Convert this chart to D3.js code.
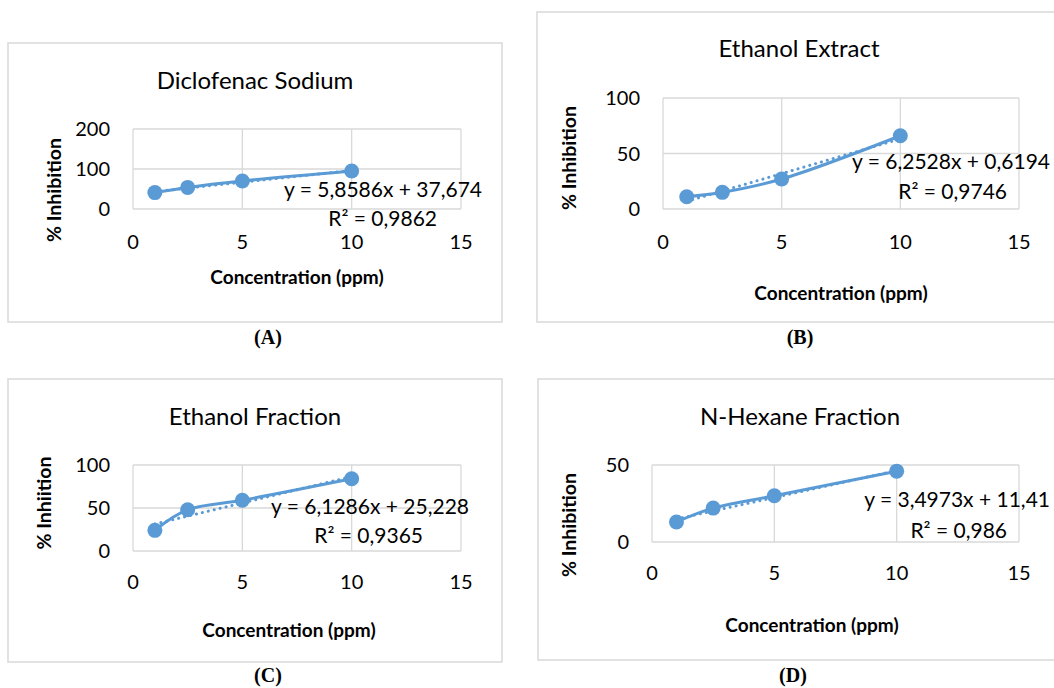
<!DOCTYPE html>
<html>
<head>
<meta charset="utf-8">
<script src="https://cdn.jsdelivr.net/npm/d3@7"></script>
<style>
  html, body { margin: 0; padding: 0; background: #fff; }
  svg { display: block; }
</style>
</head>
<body>
<svg width="1054" height="688"></svg>
<script>
// values
const concentration = [1, 2.5, 5, 10];
const inhibitionA = [41, 54, 70, 95];
const inhibitionB = [11, 15, 27, 66];
const inhibitionC = [24, 48, 59, 84];
const inhibitionD = [13, 22, 30, 46];
const titles = ["Diclofenac Sodium", "Ethanol Extract", "Ethanol Fraction", "N-Hexane Fraction"];
const yLabels = ["% Inhibition", "% Inhibition", "% Inhiition", "% Inhibition"];
const captions = ["(A)", "(B)", "(C)", "(D)"];
const yMax = [200, 100, 100, 50];
const yTicks = [[0, 100, 200], [0, 50, 100], [0, 50, 100], [0, 50]];
const xTicks = [0, 5, 10, 15];
const slopes = [5.8586, 6.2528, 6.1286, 3.4973];
const intercepts = [37.674, 0.6194, 25.228, 11.41];
const equations = ["y = 5,8586x + 37,674", "y = 6,2528x + 0,6194", "y = 6,1286x + 25,228", "y = 3,4973x + 11,41"];
const rSquared = ["0,9862", "0,9746", "0,9365", "0,986"];

const series = [inhibitionA, inhibitionB, inhibitionC, inhibitionD];

// layout of each panel (box, plot area, label spots)
const panels = [
    { box: [8, 43, 494, 279], plot: [133, 129, 328, 80], title: [255, 89], eq: [482, 197], r2: [437, 226], xl: [297, 284], yl: [54, 190], tickY: 249, cap: [268, 344] },
    { box: [537, 12, 530, 310], plot: [663, 98, 356, 111], title: [799, 57], eq: [1050, 169], r2: [1007, 199], xl: [841, 300], yl: [569, 158], tickY: 249, cap: [800, 344] },
    { box: [8, 379, 494, 283], plot: [133, 465, 328, 86], title: [255, 425], eq: [469, 514], r2: [423, 543], xl: [289, 637], yl: [44, 503], tickY: 589, cap: [268, 682] },
    { box: [538, 379, 530, 281], plot: [652, 465, 367, 77], title: [800, 425], eq: [1050, 507], r2: [1007, 538], xl: [812, 632], yl: [569, 525], tickY: 580, cap: [793, 682] }
];

const blue = "#5B9BD5";
const font = "Lato, 'Open Sans', sans-serif";
const svg = d3.select("svg");

panels.forEach((p, i) => {
    const g = svg.append("g");
    const [px, py, pw, ph] = p.plot;

    g.append("rect")
        .attr("x", p.box[0]).attr("y", p.box[1])
        .attr("width", p.box[2]).attr("height", p.box[3])
        .attr("fill", "#fff").attr("stroke", "#d9d9d9").attr("stroke-width", 1.5);

    const x = d3.scaleLinear().domain([0, 15]).range([px, px + pw]);
    const y = d3.scaleLinear().domain([0, yMax[i]]).range([py + ph, py]);

    // gridlines
    g.selectAll(".vg").data(xTicks).join("line")
        .attr("x1", d => x(d)).attr("x2", d => x(d))
        .attr("y1", py).attr("y2", py + ph)
        .attr("stroke", "#d9d9d9").attr("stroke-width", 1.3);
    g.selectAll(".hg").data(yTicks[i]).join("line")
        .attr("x1", px).attr("x2", px + pw)
        .attr("y1", d => y(d)).attr("y2", d => y(d))
        .attr("stroke", "#d9d9d9").attr("stroke-width", 1.3);

    // tick labels
    g.selectAll(".xt").data(xTicks).join("text")
        .attr("x", d => x(d)).attr("y", p.tickY)
        .attr("text-anchor", "middle")
        .attr("font-family", font).attr("font-size", 20).attr("fill", "#000")
        .text(d => d);
    g.selectAll(".yt").data(yTicks[i]).join("text")
        .attr("x", px - 23).attr("y", d => y(d))
        .attr("dy", "0.35em")
        .attr("text-anchor", "end")
        .attr("font-family", font).attr("font-size", 20).attr("fill", "#000")
        .text(d => d);

    // title
    g.append("text")
        .attr("x", p.title[0]).attr("y", p.title[1])
        .attr("text-anchor", "middle")
        .attr("font-family", font).attr("font-size", 24).attr("fill", "#000")
        .text(titles[i]);

    // axis titles
    g.append("text")
        .attr("x", p.xl[0]).attr("y", p.xl[1])
        .attr("text-anchor", "middle")
        .attr("font-family", font).attr("font-size", 19).attr("font-weight", "bold")
        .text("Concentration (ppm)");
    g.append("text")
        .attr("transform", `translate(${p.yl[0]},${p.yl[1]}) rotate(-90)`)
        .attr("text-anchor", "middle").attr("dy", "0.35em")
        .attr("font-family", font).attr("font-size", 19.5).attr("font-weight", "bold")
        .text(yLabels[i]);

    const pts = concentration.map((c, k) => [c, series[i][k]]);

    // smoothed data line
    g.append("path")
        .datum(pts)
        .attr("fill", "none").attr("stroke", blue).attr("stroke-width", 3)
        .attr("d", d3.line().x(d => x(d[0])).y(d => y(d[1])).curve(d3.curveCatmullRom.alpha(0.5)));

    // linear trendline
    const xr = d3.extent(concentration);
    g.append("path")
        .datum(xr.map(c => [c, slopes[i] * c + intercepts[i]]))
        .attr("fill", "none").attr("stroke", blue).attr("stroke-width", 3)
        .attr("stroke-linecap", "round").attr("stroke-dasharray", "0.1 6")
        .attr("d", d3.line().x(d => x(d[0])).y(d => y(d[1])));

    g.selectAll(".pt").data(pts).join("circle")
        .attr("cx", d => x(d[0])).attr("cy", d => y(d[1]))
        .attr("r", 7.5).attr("fill", blue);

    // equation labels
    g.append("text")
        .attr("x", p.eq[0]).attr("y", p.eq[1]).attr("text-anchor", "end")
        .attr("font-family", font).attr("font-size", 21).attr("fill", "#000")
        .text(equations[i]);
    g.append("text")
        .attr("x", p.r2[0]).attr("y", p.r2[1]).attr("text-anchor", "end")
        .attr("font-family", font).attr("font-size", 21).attr("fill", "#000")
        .text("R² = " + rSquared[i]);

    // caption
    svg.append("text")
        .attr("x", p.cap[0]).attr("y", p.cap[1]).attr("text-anchor", "middle")
        .attr("font-family", "'Liberation Serif', 'Times New Roman', serif")
        .attr("font-size", 20).attr("font-weight", "bold")
        .text(captions[i]);
});
</script>
</body>
</html>
